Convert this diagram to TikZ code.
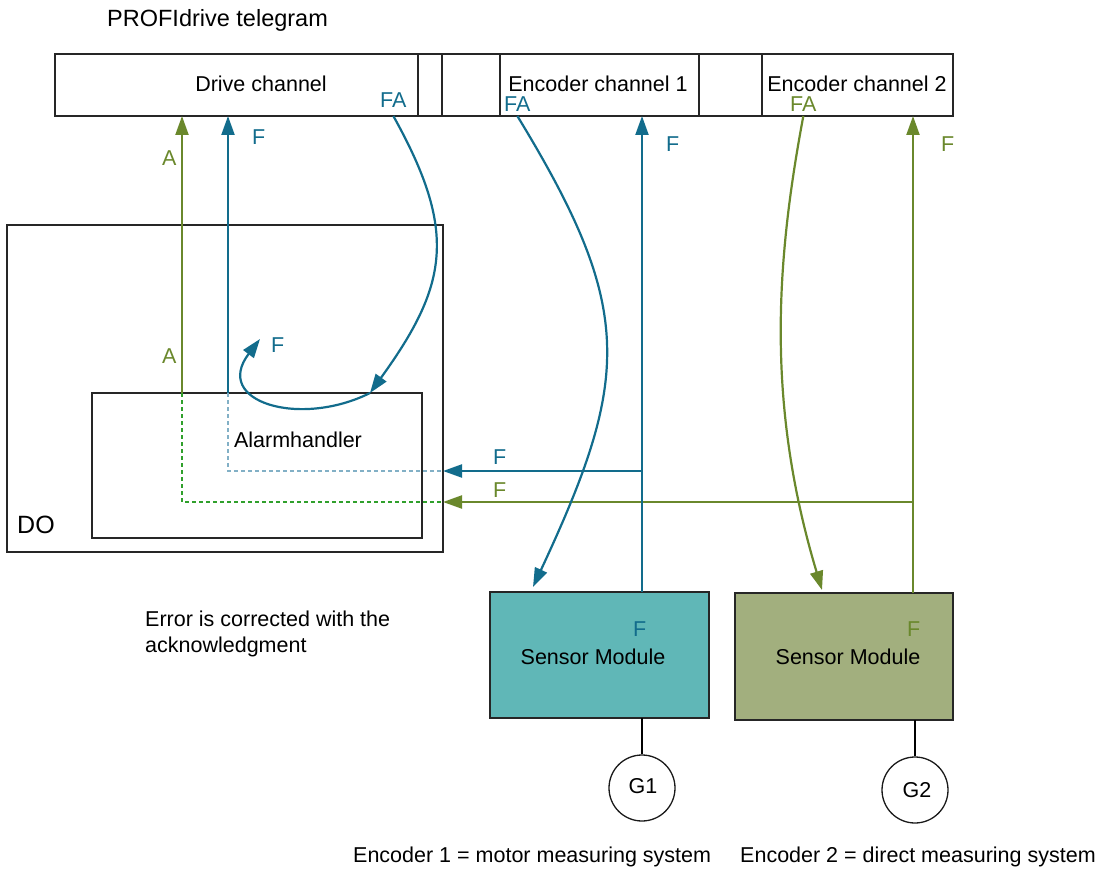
\documentclass[tikz,border=0pt]{standalone}
\usepackage{fontspec}
\setmainfont{Liberation Sans}
\usetikzlibrary{arrows.meta}
\definecolor{pblue}{RGB}{18,108,140}
\definecolor{pgreen}{RGB}{106,136,44}
\definecolor{dblue}{RGB}{130,176,198}
\definecolor{dgreen}{RGB}{48,160,44}
\definecolor{tealfill}{RGB}{96,183,183}
\definecolor{olivefill}{RGB}{162,175,126}
\begin{document}
\begin{tikzpicture}[x=1pt,y=-1pt,
  txt/.style={font=\fontsize{21.5}{26}\selectfont, inner sep=0, anchor=base},
  ltxt/.style={txt, anchor=base west},
  frame/.style={draw=black!85, inner sep=0, outer sep=0, anchor=north west, line width=1.3pt},
  thickframe/.style={frame, line width=2.7pt},
  tip/.style={-{Triangle[length=19pt,width=13pt]}},
  barrow/.style={tip, draw=pblue, fill=pblue, line width=2.2pt},
  garrow/.style={tip, draw=pgreen, fill=pgreen, line width=2.2pt},
  bdash/.style={draw=dblue, line width=1.2pt, dash pattern=on 4pt off 3pt},
  gdash/.style={draw=dgreen, line width=1.2pt, dash pattern=on 4pt off 3pt},
  enc/.style={draw=black!90, line width=1.3pt, circle, inner sep=0, minimum size=66}
]
\useasboundingbox (0,0) rectangle (1100,869);

% title
\node[ltxt, font=\fontsize{23.5}{28}\selectfont] (title) at (107,27) {PROFIdrive telegram};

% telegram
\node[frame, minimum width=363, minimum height=62] (drive) at (55,54) {};
\node[frame, line width=2pt, minimum width=24, minimum height=62] (small) at (418,54) {};
\node[thickframe, minimum width=199, minimum height=62] (enc1) at (500,54) {};
\node[thickframe, minimum width=191, minimum height=62] (enc2) at (762,54) {};
\draw[black!85, line width=1.3pt] (small.north east) -- (small.north east -| enc1.west);
\draw[black!85, line width=1.3pt] (small.south east) -- (small.south east -| enc1.west);
\draw[black!85, line width=1.3pt] (enc1.north east) -- (enc1.north east -| enc2.west);
\draw[black!85, line width=1.3pt] (enc1.south east) -- (enc1.south east -| enc2.west);
\node[txt] (tdrive) at (261,92) {Drive channel};
\node[txt] (tenc1) at (598,92) {Encoder channel 1};
\node[txt] (tenc2) at (857,92) {Encoder channel 2};
\node[ltxt, text=pblue] (faD) at (380,108) {FA};
\node[ltxt, text=pblue] (fa1) at (504,112) {FA};
\node[ltxt, text=pgreen] (fa2) at (790,112) {FA};

% DO and alarm handler
\node[frame, minimum width=436, minimum height=327] (DO) at (7,225) {};
\node[frame, minimum width=330, minimum height=145] (ah) at (92,393) {};
\node[ltxt, font=\fontsize{25}{30}\selectfont] (tDO) at (17,533) {DO};
\node[txt] (tah) at (298,447) {Alarmhandler};

% sensor modules and encoders
\node[frame, fill=tealfill, minimum width=219, minimum height=126] (sm1) at (490,592) {};
\node[frame, fill=olivefill, minimum width=218, minimum height=127] (sm2) at (735,593) {};
\node[txt] (tsm1) at (593,664) {Sensor Module};
\node[txt] (tsm2) at (848,664) {Sensor Module};
\node[ltxt, text=pblue] (fsm1) at (633,636) {F};
\node[ltxt, text=pgreen] (fsm2) at (907,636) {F};
\node[enc] (g1) at (642,788) {};
\node[enc] (g2) at (915,790) {};
\node[txt] (tg1) at (643,793) {G1};
\node[txt] (tg2) at (917,797) {G2};
\draw[black, line width=2.5pt] (g1.north) -- (g1.north |- sm1.south);
\draw[black, line width=2.5pt] (g2.north) -- (g2.north |- sm2.south);

% texts
\node[ltxt] (err1) at (145,626) {Error is corrected with the};
\node[ltxt] (err2) at (145,652) {acknowledgment};
\node[ltxt] (b1) at (353,862) {Encoder 1 = motor measuring system};
\node[ltxt] (b2) at (740,862) {Encoder 2 = direct measuring system};

% coordinates
\coordinate (pA) at (182,393);
\coordinate (pF) at (228,393);
\coordinate (bj) at (642,471);
\coordinate (gj) at (913,502);
\coordinate (hit) at (370,393);
\coordinate (loopend) at (260,339);
\coordinate (e1end) at (533,587);
\coordinate (e2end) at (822,590);

% A and F up to drive channel
\draw[gdash] (pA) |- (gj -| DO.east);
\draw[bdash] (pF) |- (bj -| DO.east);
\draw[garrow] (pA) -- (pA |- drive.south);
\draw[barrow] (pF) -- (pF |- drive.south);
\node[ltxt, text=pgreen] (lA1) at (162,166) {A};
\node[ltxt, text=pgreen] (lA2) at (162,363) {A};
\node[ltxt, text=pblue] (lF1) at (252,145) {F};

% horizontal F to DO
\draw[barrow] (bj) -- (bj -| DO.east);
\draw[garrow] (gj) -- (gj -| DO.east);
\node[ltxt, text=pblue] (lF2) at (493,464) {F};
\node[ltxt, text=pgreen] (lF3) at (493,497) {F};

% encoder F up
\draw[barrow] (bj |- sm1.north) -- (bj |- enc1.south);
\draw[garrow] (gj |- sm2.north) -- (gj |- enc2.south);
\node[ltxt, text=pblue] (lF4) at (666,152) {F};
\node[ltxt, text=pgreen] (lF5) at (941,152) {F};

% FA curves
\draw[barrow, fill=none] (faD.south |- drive.south) .. controls (458,232) and (448,285) .. (hit);
\draw[barrow, fill=none] (hit) .. controls (300,428) and (212,402) .. (loopend);
\node[ltxt, text=pblue] (lF6) at (271,352) {F};
\draw[barrow, fill=none] (fa1.south |- enc1.south) .. controls (635,309) and (631,377) .. (e1end);
\draw[garrow, fill=none] (fa2.south |- enc2.south) .. controls (775,267) and (767,407) .. (e2end);
\end{tikzpicture}
\end{document}
